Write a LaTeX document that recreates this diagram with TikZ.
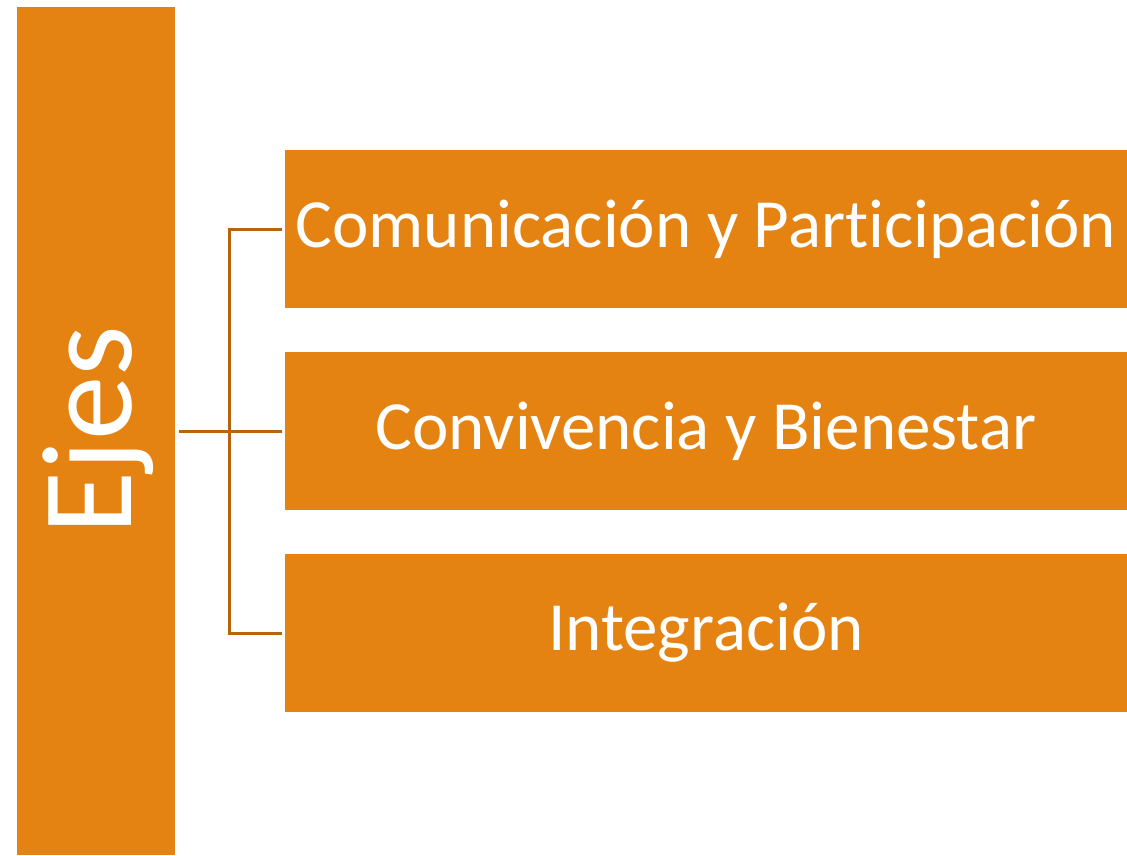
\documentclass[tikz,border=0pt]{standalone}
\usepackage{fontspec}
\setmainfont[Ligatures=CommonOff]{Carlito}
\usepackage{tikz}

\definecolor{ejeorange}{HTML}{E48312}
\definecolor{ejeline}{HTML}{B8640F}

\tikzset{
  ejebox/.style={fill=ejeorange, text=white, inner sep=0pt, minimum width=842pt, minimum height=158pt, font=\fontsize{69}{80}\selectfont},
  ejeconn/.style={ejeline, line width=3pt}
}

\begin{document}
\begin{tikzpicture}[x=1pt, y=-1pt]
  % Frame
  \useasboundingbox (0,0) rectangle (1127,855);

  % Left bar
  \node[fill=ejeorange, inner sep=0pt, minimum width=158pt, minimum height=848pt] (ejes) at (96,431) {};
  \node[text=white, rotate=90, font=\fontsize{129}{140}\selectfont] (ejestxt) at (98,430) {Ejes};

  % Boxes
  \node[ejebox] (com) at (706,229) {Comunicación y Participación};
  \node[ejebox] (conv) at (706,431) {Convivencia y Bienestar};
  \node[ejebox] (integ) at (706,633) {Integración};

  % Connectors
  \draw[ejeconn] ([xshift=4pt]ejes.east) -- ([xshift=-3pt]conv.west);
  \draw[ejeconn] ([xshift=-3pt]com.west) -- ++(-52,0) |- ([xshift=-3pt]integ.west);

\end{tikzpicture}
\end{document}
